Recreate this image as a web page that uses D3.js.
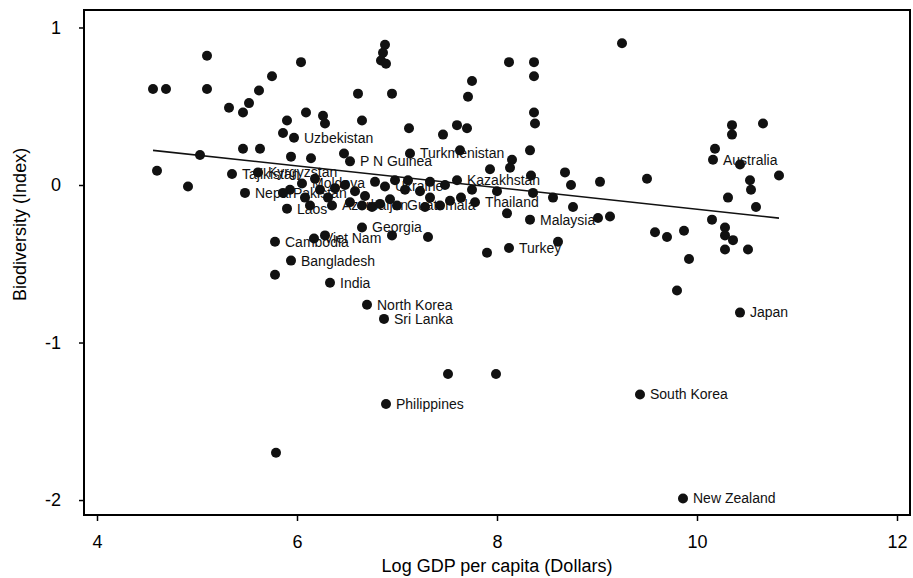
<!DOCTYPE html>
<html>
<head>
<meta charset="utf-8">
<script src="https://cdn.jsdelivr.net/npm/d3@7"></script>
<style>
  body { margin: 0; background: #fff; }
  svg { font-family: "Liberation Sans", Arial, sans-serif; }
  .axis path { display: none; }
  .axis line { stroke: #000; stroke-width: 1.5; }
  .axis text { font-size: 18px; fill: #000; }
</style>
</head>
<body>
<div id="chart"></div>
<script>
// labelled countries
const labelNames = ["Uzbekistan", "P N Guinea", "Turkmenistan", "Tajikistan", "Kyrgyzstan", "Moldova",
    "Ukraine", "Nepal", "Pakistan", "Azerbaijan", "Guatemala", "Thailand", "Kazakhstan", "Laos",
    "Georgia", "Cambodia", "Viet Nam", "Bangladesh", "India", "North Korea", "Sri Lanka", "Philippines",
    "Malaysia", "Turkey", "Australia", "Japan", "South Korea", "New Zealand"];
const labelGdp = [5.97, 6.53, 7.13, 5.35, 5.61, 6.05, 6.88, 5.48, 5.86, 6.35, 7.00, 7.78, 7.60, 5.90,
    6.65, 5.78, 6.17, 5.94, 6.33, 6.70, 6.87, 6.89, 8.33, 8.12, 10.16, 10.43, 9.43, 9.86];
const labelBio = [0.30, 0.15, 0.20, 0.07, 0.08, 0.01, -0.01, -0.05, -0.05, -0.13, -0.13, -0.11, 0.03, -0.15,
    -0.27, -0.36, -0.34, -0.48, -0.62, -0.76, -0.85, -1.39, -0.22, -0.40, 0.16, -0.81, -1.33, -1.99];

// unlabelled countries
const otherGdp = [4.56, 4.69, 5.10, 5.10, 4.60, 4.91, 5.03, 5.32, 5.46, 5.52, 5.62, 5.75, 5.46, 5.63,
    5.90, 5.86, 5.94, 5.78, 5.79, 6.09, 6.26, 6.28, 6.04, 6.14, 6.47, 6.61, 6.65, 6.95, 6.84, 6.88,
    6.86, 6.89, 7.12, 6.28, 6.95, 7.31, 7.75, 7.71, 8.37, 8.38, 7.60, 7.70, 7.46, 8.33, 7.63, 8.15,
    7.93, 8.13, 8.68, 9.03, 9.50, 7.11, 8.34, 8.74, 7.75, 8.00, 7.64, 8.36, 8.56, 8.76, 8.10, 9.01,
    9.13, 9.58, 9.70, 7.90, 8.61, 7.51, 7.99, 8.12, 8.37, 8.37, 9.25,
    10.35, 10.35, 10.66, 10.18, 10.43, 10.53, 10.54, 10.82, 10.31, 10.59, 10.15, 10.28, 10.28, 10.36,
    10.28, 10.51, 9.87, 9.92, 9.80,
    6.18, 5.93, 6.08, 6.23, 6.38, 6.48, 6.58, 6.68, 6.53, 6.65, 6.75, 6.83, 6.93, 7.08, 7.23, 7.33,
    7.43, 7.28, 7.53, 7.48, 6.78, 6.98, 6.31, 6.13, 7.33];
const otherBio = [0.61, 0.61, 0.82, 0.61, 0.09, -0.01, 0.19, 0.49, 0.46, 0.52, 0.60, 0.69, 0.23, 0.23,
    0.41, 0.33, 0.18, -0.57, -1.70, 0.46, 0.44, 0.39, 0.78, 0.17, 0.20, 0.58, 0.41, 0.58, 0.79, 0.89,
    0.84, 0.77, 0.36, -0.32, -0.32, -0.33, 0.66, 0.56, 0.46, 0.39, 0.38, 0.36, 0.32, 0.22, 0.22, 0.16,
    0.10, 0.11, 0.08, 0.02, 0.04, 0.03, 0.06, 0.00, -0.03, -0.04, -0.08, -0.05, -0.08, -0.14, -0.18, -0.21,
    -0.20, -0.30, -0.33, -0.43, -0.36, -1.20, -1.20, 0.78, 0.78, 0.69, 0.90,
    0.38, 0.32, 0.39, 0.23, 0.13, 0.03, -0.03, 0.06, -0.08, -0.14, -0.22, -0.27, -0.32, -0.35,
    -0.41, -0.41, -0.29, -0.47, -0.67,
    0.04, -0.03, -0.08, -0.03, -0.02, 0.00, -0.04, -0.07, -0.11, -0.13, -0.14, -0.12, -0.09, -0.03, -0.04, -0.08,
    -0.13, -0.14, -0.10, 0.00, 0.02, 0.03, -0.08, -0.13, 0.02];

// fitted line end points
const fitGdp = [4.56, 10.82];
const fitBio = [0.22, -0.21];

const xTicks = [4, 6, 8, 10, 12];
const yTicks = [1, 0, -1, -2];

const margin = { top: 10, right: 3, bottom: 63, left: 84 };
const width = 913 - margin.left - margin.right;
const height = 578 - margin.top - margin.bottom;

const svg = d3.select('#chart')
    .append('svg')
    .attr('width', 913)
    .attr('height', 578)
    .append('g')
    .attr('transform', 'translate(' + margin.left + ',' + margin.top + ')');

const x = d3.scaleLinear().domain([3.87, 12.13]).range([0, width]);
const y = d3.scaleLinear().domain([-2.095, 1.111]).range([height, 0]);

svg.append('g')
    .attr('class', 'axis')
    .attr('transform', 'translate(0,' + height + ')')
    .call(d3.axisBottom(x).tickValues(xTicks).tickSize(6).tickPadding(14));

svg.append('g')
    .attr('class', 'axis')
    .call(d3.axisLeft(y).tickValues(yTicks).tickFormat(d => String(d)).tickSize(5).tickPadding(18));

// plot frame
svg.append('rect')
    .attr('width', width)
    .attr('height', height)
    .attr('fill', 'none')
    .attr('stroke', '#000')
    .attr('stroke-width', 2);

// axis titles
svg.append('text')
    .attr('x', x(8))
    .attr('y', height + 57)
    .attr('text-anchor', 'middle')
    .style('font-size', '18px')
    .text('Log GDP per capita (Dollars)');

svg.append('text')
    .attr('transform', 'translate(' + (20 - margin.left) + ',' + y(-0.25) + ') rotate(-90)')
    .attr('text-anchor', 'middle')
    .attr('dy', '0.35em')
    .style('font-size', '18px')
    .text('Biodiversity (Index)');

// regression line
const fit = fitGdp.map((g, i) => ({ gdp: g, bio: fitBio[i] }));
svg.append('path')
    .datum(fit)
    .attr('fill', 'none')
    .attr('stroke', '#111')
    .attr('stroke-width', 1.6)
    .attr('d', d3.line().x(d => x(d.gdp)).y(d => y(d.bio)));

const others = otherGdp.map((g, i) => ({ gdp: g, bio: otherBio[i] }));
const labelled = labelNames.map((n, i) => ({ name: n, gdp: labelGdp[i], bio: labelBio[i] }));

svg.selectAll('.dot')
    .data(others.concat(labelled))
    .enter().append('circle')
    .attr('class', 'dot')
    .attr('cx', d => x(d.gdp))
    .attr('cy', d => y(d.bio))
    .attr('r', 5)
    .style('fill', '#111');

svg.selectAll('.lbl')
    .data(labelled)
    .enter().append('text')
    .attr('class', 'lbl')
    .attr('x', d => x(d.gdp) + 10)
    .attr('y', d => y(d.bio))
    .attr('dy', '0.35em')
    .style('font-size', '14px')
    .style('fill', '#111')
    .text(d => d.name);
</script>
</body>
</html>
